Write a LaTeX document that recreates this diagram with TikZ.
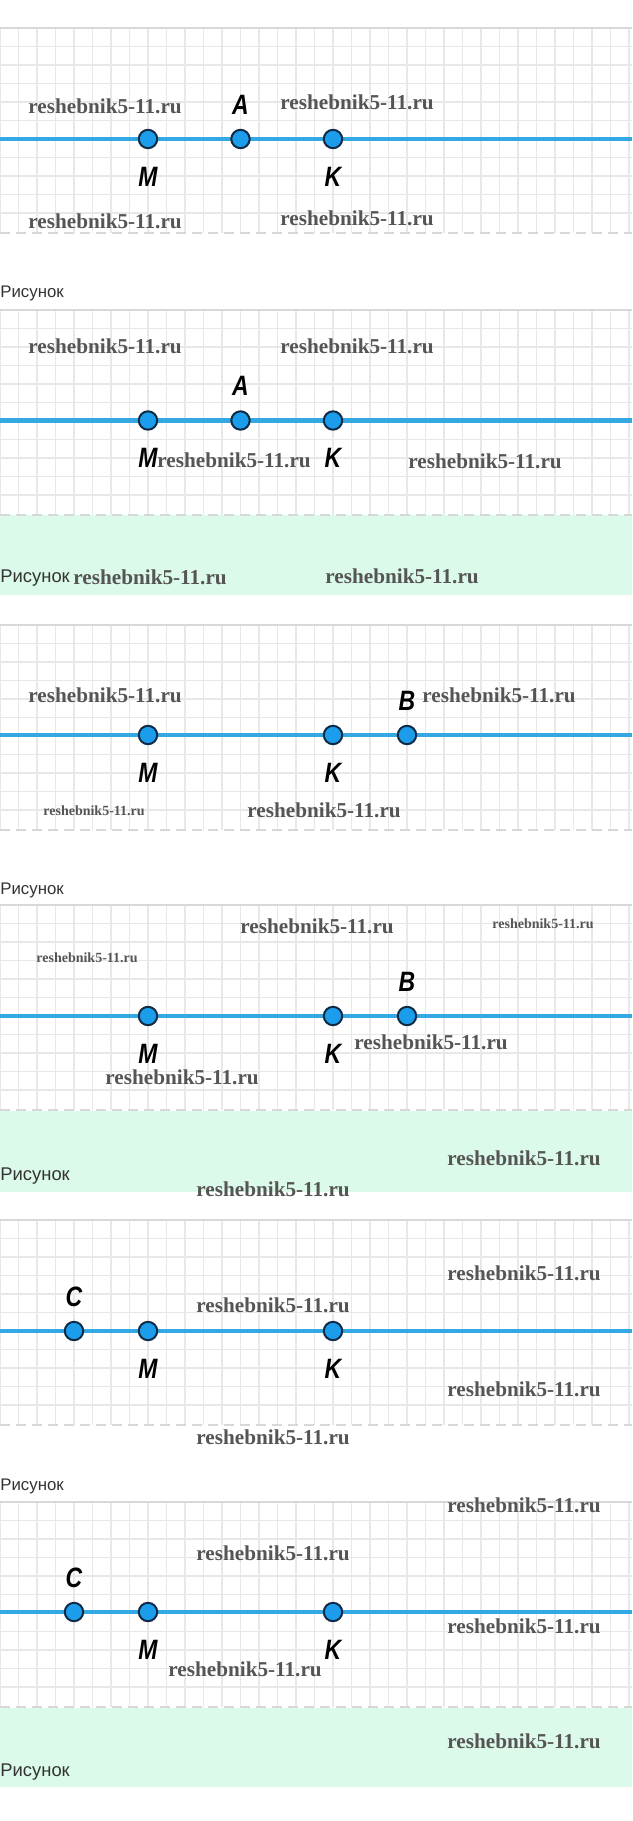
\documentclass[tikz,border=0pt]{standalone}
\usepackage{fontspec}
\setmainfont{Liberation Serif}
\newfontfamily\lblfont[FakeStretch=0.82]{Liberation Sans}
\newfontfamily\capfont{Liberation Sans}
\usetikzlibrary{positioning}

\definecolor{gridgray}{HTML}{E8E8E8}
\definecolor{edgegray}{HTML}{D8D8D8}
\definecolor{lineblue}{HTML}{33A8E3}
\definecolor{dotblue}{HTML}{1C9DEB}
\definecolor{dotedge}{HTML}{0E2A45}
\definecolor{mint}{HTML}{DCFAE9}
\definecolor{wmgray}{HTML}{555555}
\definecolor{capgray}{HTML}{333333}

\tikzset{
  gridline/.style={gridgray, line width=0.8pt},
  topline/.style={edgegray, line width=1pt},
  cutline/.style={edgegray, line width=0.8pt, dash pattern=on 5pt off 3pt},
  ray/.style={lineblue, line width=2.2pt},
  pointdot/.style={circle, draw=dotedge, fill=dotblue, line width=1pt, minimum size=9.2pt, inner sep=0pt},
  lbl/.style={inner sep=0pt, font=\lblfont\bfseries\itshape\fontsize{14}{14}\selectfont},
  wm/.style={anchor=west, inner sep=0pt, text=wmgray, font=\bfseries\fontsize{10.6}{10.6}\selectfont},
  wmsmall/.style={wm, font=\bfseries\fontsize{7}{7}\selectfont},
  figcap/.style={anchor=west, inner sep=0pt, text=capgray, font=\capfont\fontsize{8.4}{8.4}\selectfont},
  figcapbig/.style={figcap, font=\capfont\fontsize{9.2}{9.2}\selectfont}
}

\begin{document}
\begin{tikzpicture}[x=0.5pt, y=-0.5pt]
\useasboundingbox[fill=white] (0,0) rectangle (632,1821);

% green bands
\fill[mint] (0,515) rectangle (632,595);
\fill[mint] (0,1111) rectangle (632,1191.5);
\fill[mint] (0,1708) rectangle (632,1787);

% squared paper
\foreach \t in {28,310,625,905,1220,1502} {
  \foreach \i in {0,...,34} \draw[gridline] (\i*18.5,\t) -- (\i*18.5,\t+205);
  \foreach \j in {1,...,10} \draw[gridline] (0,\t+\j*18.5) -- (632,\t+\j*18.5);
  \draw[topline] (0,\t) -- (632,\t);
  \draw[cutline] (0,\t+205) -- (632,\t+205);
}

% panel 1
\coordinate (L1) at (0,139);
\coordinate (R1) at (632,139);
\draw[ray] (L1) -- (R1);
\node[pointdot] (M1) at (148,139) {};
\node[pointdot] (A1) at (240.5,139) {};
\node[pointdot] (K1) at (333,139) {};
\node[lbl, above=7pt of A1] (tA1) {A};
\node[lbl, below=8.6pt of M1] (tM1) {M};
\node[lbl, below=8.6pt of K1] (tK1) {K};

% panel 2
\coordinate (L2) at (0,420.5);
\coordinate (R2) at (632,420.5);
\draw[ray] (L2) -- (R2);
\node[pointdot] (M2) at (148,420.5) {};
\node[pointdot] (A2) at (240.5,420.5) {};
\node[pointdot] (K2) at (333,420.5) {};
\node[lbl, above=7pt of A2] (tA2) {A};
\node[lbl, below=8.6pt of M2] (tM2) {M};
\node[lbl, below=8.6pt of K2] (tK2) {K};

% panel 3
\coordinate (L3) at (0,735);
\coordinate (R3) at (632,735);
\draw[ray] (L3) -- (R3);
\node[pointdot] (M3) at (148,735) {};
\node[pointdot] (K3) at (333,735) {};
\node[pointdot] (B3) at (407,735) {};
\node[lbl, above=7pt of B3] (tB3) {B};
\node[lbl, below=8.6pt of M3] (tM3) {M};
\node[lbl, below=8.6pt of K3] (tK3) {K};

% panel 4
\coordinate (L4) at (0,1016);
\coordinate (R4) at (632,1016);
\draw[ray] (L4) -- (R4);
\node[pointdot] (M4) at (148,1016) {};
\node[pointdot] (K4) at (333,1016) {};
\node[pointdot] (B4) at (407,1016) {};
\node[lbl, above=7pt of B4] (tB4) {B};
\node[lbl, below=8.6pt of M4] (tM4) {M};
\node[lbl, below=8.6pt of K4] (tK4) {K};

% panel 5
\coordinate (L5) at (0,1331);
\coordinate (R5) at (632,1331);
\draw[ray] (L5) -- (R5);
\node[pointdot] (C5) at (74,1331) {};
\node[pointdot] (M5) at (148,1331) {};
\node[pointdot] (K5) at (333,1331) {};
\node[lbl, above=7pt of C5] (tC5) {C};
\node[lbl, below=8.6pt of M5] (tM5) {M};
\node[lbl, below=8.6pt of K5] (tK5) {K};

% panel 6
\coordinate (L6) at (0,1612);
\coordinate (R6) at (632,1612);
\draw[ray] (L6) -- (R6);
\node[pointdot] (C6) at (74,1612) {};
\node[pointdot] (M6) at (148,1612) {};
\node[pointdot] (K6) at (333,1612) {};
\node[lbl, above=7pt of C6] (tC6) {C};
\node[lbl, below=8.6pt of M6] (tM6) {M};
\node[lbl, below=8.6pt of K6] (tK6) {K};

% captions
\node[figcap] (cap1) at (0,293) {Рисунок};
\node[figcapbig] (cap2) at (0,578) {Рисунок};
\node[figcap] (cap3) at (0,890) {Рисунок};
\node[figcapbig] (cap4) at (0,1176) {Рисунок};
\node[figcap] (cap5) at (0,1486) {Рисунок};
\node[figcapbig] (cap6) at (0,1772) {Рисунок};

% watermarks
\node[wm] (w1) at (28,106) {reshebnik5-11.ru};
\node[wm] (w2) at (280,102) {reshebnik5-11.ru};
\node[wm] (w3) at (28,221) {reshebnik5-11.ru};
\node[wm] (w4) at (280,218) {reshebnik5-11.ru};
\node[wm] (w5) at (28,346) {reshebnik5-11.ru};
\node[wm] (w6) at (280,346) {reshebnik5-11.ru};
\node[wm] (w7) at (157,460) {reshebnik5-11.ru};
\node[wm] (w8) at (408,461) {reshebnik5-11.ru};
\node[wm] (w9) at (73,577) {reshebnik5-11.ru};
\node[wm] (w10) at (325,576) {reshebnik5-11.ru};
\node[wm] (w11) at (28,695) {reshebnik5-11.ru};
\node[wm] (w12) at (422,695) {reshebnik5-11.ru};
\node[wmsmall] (w13) at (43,811) {reshebnik5-11.ru};
\node[wm] (w14) at (247,810) {reshebnik5-11.ru};
\node[wm] (w15) at (240,926) {reshebnik5-11.ru};
\node[wmsmall] (w16) at (492,924) {reshebnik5-11.ru};
\node[wmsmall] (w17) at (36,958) {reshebnik5-11.ru};
\node[wm] (w18) at (354,1042) {reshebnik5-11.ru};
\node[wm] (w19) at (105,1077) {reshebnik5-11.ru};
\node[wm] (w20) at (447,1158) {reshebnik5-11.ru};
\node[wm] (w21) at (196,1189) {reshebnik5-11.ru};
\node[wm] (w22) at (447,1273) {reshebnik5-11.ru};
\node[wm] (w23) at (196,1305) {reshebnik5-11.ru};
\node[wm] (w24) at (447,1389) {reshebnik5-11.ru};
\node[wm] (w25) at (196,1437) {reshebnik5-11.ru};
\node[wm] (w26) at (447,1505) {reshebnik5-11.ru};
\node[wm] (w27) at (196,1553) {reshebnik5-11.ru};
\node[wm] (w28) at (447,1626) {reshebnik5-11.ru};
\node[wm] (w29) at (168,1669) {reshebnik5-11.ru};
\node[wm] (w30) at (447,1741) {reshebnik5-11.ru};

\end{tikzpicture}
\end{document}
